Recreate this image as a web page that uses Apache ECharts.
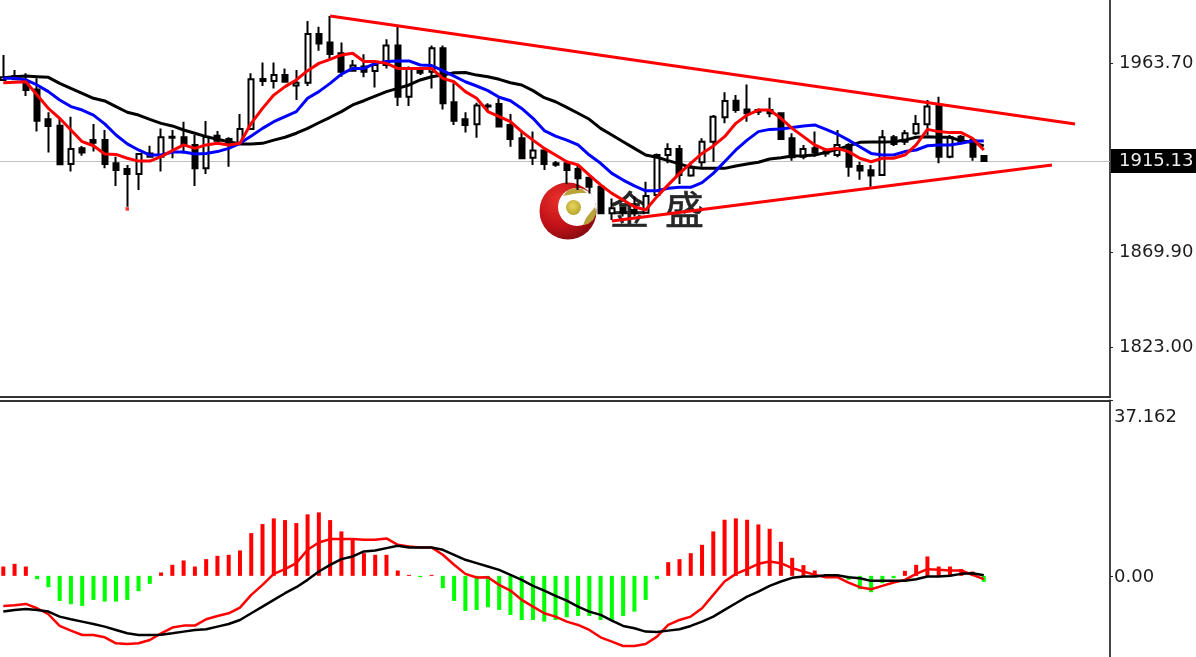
<!DOCTYPE html>
<html><head><meta charset="utf-8">
<style>html,body{margin:0;padding:0;background:#fff}#c{width:1196px;height:657px}</style>
<script src="https://cdn.jsdelivr.net/npm/echarts@6/dist/echarts.min.js"></script>
</head><body><div id="c"></div>
<script>
const opens=[1955.3,1957.2,1953.9,1950.6,1935.8,1932.6,1913.7,1921.4,1925.5,1925.5,1914,1911.2,1908.7,1917.3,1917.3,1927.1,1926.9,1923.1,1911.5,1927.7,1926,1923.9,1931,1955.8,1954.8,1957.7,1952.6,1953.9,1978.1,1973.8,1968.5,1959.9,1961.9,1959.7,1962.7,1972.3,1947,1960.2,1959.4,1971,1944.2,1935.8,1933.3,1942.6,1943.4,1933,1926.4,1916.8,1920.3,1914,1914,1911.2,1906.9,1902.4,1889.2,1892.2,1890.9,1889.5,1898.3,1918.1,1921.1,1907.9,1914.5,1924.7,1936.8,1945,1940.7,1940.4,1940.4,1938.8,1926.4,1917.3,1921.4,1919.8,1918.1,1923.1,1912.7,1910.5,1908.2,1926.9,1924.7,1928.9,1933.3,1942.6,1917.3,1927.2,1925.5,1917.6];
const closes=[1956.6,1955.6,1950.3,1935.1,1932.5,1913.5,1921.1,1919.3,1924.2,1913.7,1910.7,1908.7,1918.6,1918.9,1926.9,1926.7,1923.6,1911.5,1927.2,1925.2,1923.6,1931,1955.6,1954.8,1957.7,1954.4,1953.9,1978.1,1973.4,1968.2,1959.4,1962.4,1959.4,1962.7,1972.3,1947,1961,1958.9,1971,1943.7,1935.1,1933,1942.6,1942.2,1932.2,1926,1916.5,1920.3,1913.7,1913.3,1910.7,1906.6,1902.4,1889.2,1891.7,1889.5,1889.2,1897.8,1918.1,1921.1,1908.2,1912.3,1924.7,1937.1,1944.9,1940.4,1938.8,1939.6,1938.8,1926,1917,1921.1,1919.3,1918.9,1923.1,1912.3,1910.4,1907.9,1926.9,1923.6,1928.9,1933.5,1942.1,1917.3,1926.9,1924.2,1917.3,1915.13];
const lows=[1955.3,1955.3,1947.3,1929.7,1919.3,1913.2,1909.9,1917.8,1919.8,1911.5,1902.8,1892.5,1900.8,1917.3,1909.9,1916.5,1918.9,1902.8,1908.7,1923.9,1912.3,1923.1,1930.5,1952.3,1951.1,1954.1,1945.4,1952.3,1969.8,1965.5,1956.9,1959.4,1956.6,1951.6,1961,1942.4,1942.4,1957.7,1951.1,1940.7,1933,1929.3,1926.7,1939.6,1931.7,1922.2,1916,1913.2,1910.7,1912.3,1903.7,1900.8,1899.1,1889.2,1885.9,1887.6,1887.6,1889.2,1897.5,1914,1903.8,1907.4,1912.3,1914.8,1933.8,1939.1,1934.6,1937.9,1936.8,1925.5,1915.3,1916,1917.3,1917.3,1917,1907.4,1905.8,1902.4,1907.9,1922.6,1923.1,1928,1928,1914,1916.5,1923.9,1915.3,1915.3];
const highs=[1967.7,1960.2,1958.6,1956.1,1939.3,1936.3,1937.1,1922.6,1933.5,1930.5,1917.3,1913.2,1918.9,1922.7,1931.3,1930.5,1934.6,1928,1935,1930,1926.9,1938.4,1958.6,1963.9,1963.9,1961,1960.2,1984.5,1981.7,1987,1973.8,1965.2,1968,1965.2,1975.4,1981.7,1961.9,1961,1972.3,1972.3,1953.6,1939.3,1944,1943.7,1946.2,1938.4,1930.5,1929.7,1921.4,1915.1,1914.8,1913.2,1907.4,1902.8,1896.6,1892.2,1897.5,1904.9,1918.9,1923.9,1923.1,1914.8,1926.4,1937.9,1949.2,1947.8,1953.1,1941.2,1946.5,1939.1,1928.9,1923.1,1929.7,1921.4,1930.5,1923.9,1914.8,1913.2,1930.5,1928,1930.5,1937.9,1945.4,1947,1928,1928,1926.4,1918.1];
const fastMA=[1953.9,1954.1,1954.4,1947.8,1941.2,1936.3,1930.5,1924.7,1922.7,1918.6,1918.4,1916.5,1915.1,1915.1,1917.3,1920.3,1923.1,1921.4,1923.1,1923.9,1923.1,1923.9,1933.8,1941.2,1947.8,1952,1955.3,1959.9,1963.5,1965.5,1967.7,1968.5,1964.4,1964.4,1963.5,1961,1961,1961,1961,1956.1,1954.4,1949.5,1946.2,1939.6,1937.1,1934.6,1929.7,1925.5,1921.4,1918.1,1914.8,1913.2,1908.2,1903.3,1899.1,1895.8,1892.5,1890.9,1897.5,1903.3,1909,1914,1918.9,1922.6,1927.2,1933.8,1937.9,1940.4,1940.4,1936.3,1931.3,1927.2,1923.1,1920.6,1921.4,1919.8,1916.5,1914.8,1916.5,1916.5,1918.1,1923.1,1930.8,1929.7,1929.2,1929.2,1926.4,1920.6];
const midMA=[1956.1,1956.1,1955.3,1952.8,1949.5,1945.4,1942.1,1940.4,1937.9,1933.5,1928,1923.6,1920.6,1918.1,1918.1,1919.6,1919.6,1918.6,1918.9,1919.8,1921.4,1923.9,1927.5,1931.3,1934.6,1937.1,1939.6,1946.2,1949.5,1953.6,1958.2,1961,1961,1963.5,1964.4,1964.7,1964.7,1962.7,1962.4,1959.9,1957.2,1954.4,1952.3,1950,1946.7,1945,1941.2,1936.3,1930.2,1927.5,1925.5,1923.1,1918.1,1914,1909,1905.7,1902.8,1900.4,1900.4,1901.6,1902.1,1902.1,1904.4,1909,1914.8,1920.6,1925.5,1929.7,1930.8,1931,1931.7,1932.5,1933,1930.8,1928.5,1925.5,1922.2,1918.9,1918.1,1918.1,1919.8,1920.6,1922.7,1923.1,1923.1,1923.9,1925.1,1925.1];
const slowMA=[1956.4,1956.9,1957.2,1956.9,1956.6,1953.6,1951.1,1948.7,1946.2,1944.9,1942.1,1939.3,1937.9,1935.8,1933.8,1932.5,1930.5,1928.9,1927.2,1925.9,1924.7,1923.6,1923.6,1923.9,1925.5,1926.9,1928.9,1931.3,1934.1,1936.8,1939.6,1942.9,1945,1947.3,1949.5,1951.1,1952.8,1955.3,1956.9,1957.7,1958.9,1959,1957.7,1956.9,1955.6,1953.9,1952.8,1950,1946.5,1944.5,1941.7,1938.8,1935.8,1931.3,1928,1924.7,1921.4,1918.1,1917,1915.3,1913.7,1912,1911.5,1911.5,1911.5,1912.7,1913.7,1914.5,1916.1,1916.8,1917.6,1917.8,1918.1,1919.4,1920.9,1922.6,1924.4,1924.6,1924.6,1924.7,1925.5,1926.9,1927.2,1926.9,1926.9,1925.1,1924.4,1922.6];
const histogram=[1.98,2.55,1.98,-0.71,-2.41,-5.31,-6.02,-6.37,-5.10,-5.45,-5.45,-5.10,-3.26,-1.70,0.71,2.34,3.26,1.98,3.54,4.25,4.46,5.38,9.06,10.97,12.18,11.82,11.19,13.03,13.45,11.82,9.42,7.79,4.81,4.46,4.46,1.13,0.21,-0.28,0.21,-2.62,-5.31,-7.43,-7.22,-6.66,-7.22,-8.28,-9.35,-9.35,-9.70,-9.35,-8.78,-8.50,-8.50,-9.35,-9.35,-8.50,-7.58,-5.10,-0.71,2.90,3.54,4.81,6.58,9.42,11.89,12.18,11.89,10.90,9.98,7.22,3.82,2.27,1.13,0.28,0.28,-0.85,-2.83,-3.47,-1.56,-0.50,1.06,2.34,4.11,1.98,1.98,1.42,0.92,-1.27];
const macdFast=[-6.37,-6.23,-5.95,-6.87,-8.14,-10.62,-11.61,-12.53,-12.53,-13.03,-14.30,-14.44,-14.30,-13.59,-12.18,-10.97,-10.55,-10.55,-9.20,-8.50,-7.93,-6.73,-4.04,-1.91,0.42,1.42,2.69,5.52,7.08,7.79,7.79,7.79,7.65,7.65,7.93,6.58,6.23,6.02,6.02,4.46,2.34,0.42,-0.35,-0.28,-1.91,-3.12,-5.10,-6.51,-7.93,-8.64,-9.70,-10.41,-11.47,-13.03,-13.95,-14.87,-14.87,-14.44,-12.89,-10.41,-9.35,-8.64,-6.87,-4.04,-1.20,0.42,1.42,2.55,3.04,2.69,1.63,0.92,0.21,-0.28,-0.28,-1.42,-2.41,-2.83,-2.12,-1.42,-0.85,0.42,1.42,1.27,1.13,1.13,0.21,-0.71];
const macdSignal=[-7.58,-7.22,-7.01,-7.22,-7.58,-8.64,-9.20,-9.70,-10.20,-10.76,-11.47,-12.18,-12.53,-12.53,-12.46,-12.18,-11.82,-11.47,-11.33,-10.76,-10.20,-9.35,-7.93,-6.51,-5.10,-3.68,-2.41,-0.85,0.92,2.34,3.54,4.11,5.17,5.38,5.88,6.37,6.02,6.02,6.02,5.52,4.46,3.40,2.69,1.98,1.27,0.21,-0.85,-2.12,-3.12,-4.25,-5.24,-6.51,-7.58,-8.28,-9.49,-10.62,-11.12,-11.82,-11.89,-11.61,-11.33,-10.62,-9.70,-8.64,-7.22,-5.81,-4.39,-3.33,-2.12,-1.20,-0.42,-0.14,-0.14,0.14,0.14,-0.28,-0.50,-1.06,-1.06,-1.06,-1.06,-0.71,-0.14,-0.14,0,0.42,0.57,0.14];
const upperTrend=[[29,1987],[95.1,1933.5]];
const lowerTrend=[[54,1885.4],[93.05,1913.2]];
const fractalMarks=[[11,1891.4]];
const priceTicks=[1963.7,1869.9,1823];
const macdTicks=[37.162,0];
const currentPrice=1915.13;

const bars=opens.map((o,i)=>[i,o,closes[i],lows[i],highs[i]]);
const withIndex=a=>a.map((v,i)=>[i,v]);
const xRange={min:-0.293,max:98.2};
const FONT='"DejaVu Sans"';
const lineSeries=(name,data,color,width,ax)=>({name,type:'line',data,xAxisIndex:ax,yAxisIndex:ax,showSymbol:false,symbol:'none',smooth:false,z:4,
  lineStyle:{color,width},silent:true});

const chart=echarts.init(document.getElementById('c'),null,{renderer:'canvas'});
chart.setOption({
 animation:false,backgroundColor:'#fff',
 grid:[{left:0,top:0,width:1110,height:397,outerBoundsMode:'none'},{left:0,top:400.5,width:1110,height:256.5,outerBoundsMode:'none'}],
 xAxis:[0,1].map(g=>({type:'value',gridIndex:g,...xRange,position:g?'top':'bottom',
   axisLine:{show:true,onZero:false,lineStyle:{color:'#333',width:2}},axisTick:{show:false},axisLabel:{show:false},splitLine:{show:false}})),
 yAxis:[
  {type:'value',gridIndex:0,position:'right',min:1798.23,max:1994.9,splitLine:{show:false},
   axisLine:{show:true,onZero:false,lineStyle:{color:'#444',width:2}},
   axisTick:{show:true,length:3,customValues:priceTicks.concat(currentPrice),lineStyle:{color:'#222'}},
   axisLabel:{customValues:priceTicks,margin:9,padding:[3,0,0,0],color:'#1c1c1c',fontFamily:FONT,fontSize:18,formatter:v=>v.toFixed(2)}},
  {type:'value',gridIndex:1,position:'right',min:-17.2,max:37.162,splitLine:{show:false},
   axisLine:{show:true,onZero:false,lineStyle:{color:'#444',width:2}},
   axisTick:{show:true,length:3,customValues:macdTicks,lineStyle:{color:'#222'}},
   axisLabel:{customValues:macdTicks,margin:4,padding:[3,0,0,0],color:'#1c1c1c',fontFamily:FONT,fontSize:18,
     formatter:v=>v>0?'{t|'+v.toFixed(3)+'}':v.toFixed(2),
     rich:{t:{padding:[30,0,0,0],fontFamily:FONT,fontSize:18,color:'#1c1c1c'}}}}
 ],
 graphic:[
  {type:'circle',z:-5,silent:true,shape:{cx:568,cy:211,r:28.5},style:{fill:{type:'radial',x:0.35,y:0.3,r:0.8,colorStops:[{offset:0,color:'#e8302a'},{offset:0.6,color:'#c01018'},{offset:1,color:'#7c0a10'}]}}},
  {type:'circle',z:-4,silent:true,shape:{cx:577,cy:207,r:19},style:{fill:'#fff'}},
  {type:'circle',z:-3,silent:true,shape:{cx:573.5,cy:207.5,r:7.5},style:{fill:{type:'radial',x:0.45,y:0.4,r:0.7,colorStops:[{offset:0,color:'#e8d860'},{offset:1,color:'#b09a20'}]}}},
  {type:'polygon',z:-3,silent:true,shape:{points:[[563,196],[568,190],[575,188],[582,189],[587,193],[580,193],[573,194]]},style:{fill:'#b8a43a'}},
  {type:'polygon',z:-3,silent:true,shape:{points:[[583,225],[586,218],[590,213],[595,207],[596,214],[593,220],[588,224]]},style:{fill:'#b8a43a'}},
  {type:'text',z:-2,silent:true,x:610,y:190,style:{text:'金',fill:'#262626',stroke:'#262626',lineWidth:0.6,font:'39px "Noto Sans CJK SC"'}},
  {type:'text',z:-2,silent:true,x:665,y:190,style:{text:'盛',fill:'#262626',stroke:'#262626',lineWidth:0.6,font:'39px "Noto Sans CJK SC"'}}
 ],
 series:[
  {name:'Price',type:'candlestick',xAxisIndex:0,yAxisIndex:0,data:bars,encode:{x:0,y:[1,2,3,4]},barWidth:5.5,z:3,silent:true,
   itemStyle:{color:'#fff',color0:'#000',borderColor:'#000',borderColor0:'#000',borderWidth:2},
   markLine:{silent:true,symbol:'none',z:1,data:[{yAxis:currentPrice}],lineStyle:{color:'#c0c0c0',width:1.2,type:'solid'},
     label:{position:'end',distance:1,formatter:()=>currentPrice.toFixed(2),color:'#eeeeee',backgroundColor:'#000',fontFamily:FONT,fontSize:18,padding:[4,3,2,8]}}},
  lineSeries('Slow MA',withIndex(slowMA),'#000',3,0),
  lineSeries('Mid MA',withIndex(midMA),'#0000ff',3,0),
  lineSeries('Fast MA',withIndex(fastMA),'#ff0000',3,0),
  lineSeries('Upper trend',upperTrend,'#ff0000',3,0),
  lineSeries('Lower trend',lowerTrend,'#ff0000',3,0),
  {name:'Fractal',type:'scatter',xAxisIndex:0,yAxisIndex:0,data:fractalMarks,symbol:'rect',symbolSize:3.5,itemStyle:{color:'#ff0000'},z:4,silent:true},
  {name:'Histogram',type:'bar',xAxisIndex:1,yAxisIndex:1,data:withIndex(histogram),barWidth:4,z:2,silent:true,
   itemStyle:{color:p=>p.value[1]>=0?'#ff0000':'#00ff00'}},
  lineSeries('MACD',withIndex(macdFast),'#ff0000',2.5,1),
  lineSeries('Signal',withIndex(macdSignal),'#000',2.5,1)
 ]
});
</script></body></html>
